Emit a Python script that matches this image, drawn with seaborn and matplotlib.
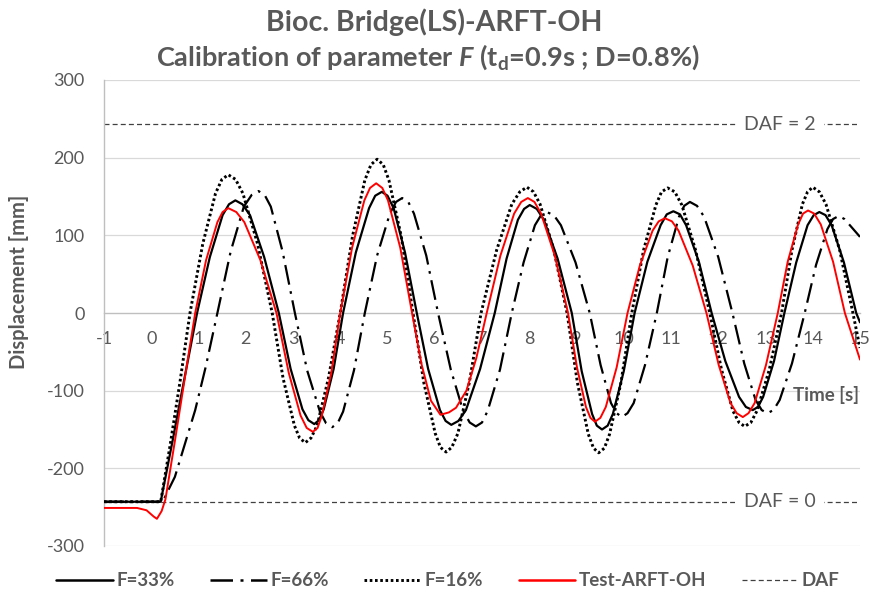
import numpy as np
import pandas as pd
import matplotlib
matplotlib.use("Agg")
import matplotlib.pyplot as plt
import seaborn as sns
from matplotlib.lines import Line2D

# ---------------- data ----------------
t33 = [-1, 0.2, 0.45, 0.7, 0.97, 1.24, 1.51, 1.645, 1.78, 1.93, 2.09, 2.39, 2.7, 2.95, 3.2, 3.325, 3.45,
       3.55, 3.65, 3.86, 4.06, 4.33, 4.61, 4.74, 4.88, 5.0, 5.13, 5.37, 5.62, 5.86, 6.11, 6.23, 6.35,
       6.5, 6.66, 6.96, 7.27, 7.52, 7.76, 7.89, 8.01, 8.16, 8.31, 8.6, 8.9, 9.11, 9.33, 9.43, 9.54,
       9.66, 9.77, 10.0, 10.23, 10.5, 10.78, 10.91, 11.05, 11.19, 11.32, 11.59, 11.86, 12.15, 12.44,
       12.585, 12.73, 12.84, 12.95, 13.18, 13.4, 13.65, 13.89, 14.02, 14.14, 14.27, 14.4, 14.66,
       14.92, 15.0]
d33 = [-243, -243, -165, -85, 0, 72, 126, 140, 145, 140, 126, 72, 0, -72, -124, -138, -143,
       -138, -124, -72, 0, 78, 135, 151, 156, 151, 135, 78, 0, -72, -125, -139, -144,
       -139, -125, -72, 0, 70, 120, 134, 139, 134, 120, 70, 0, -75, -130, -145, -150,
       -145, -130, -75, 0, 66, 113, 127, 131, 127, 113, 66, 0, -62, -108,
       -121, -125, -121, -108, -62, 0, 65, 113, 126, 130, 126, 113, 65,
       0, -12]

t66 = [-1, 0.24, 0.5, 0.93, 1.15, 1.4, 1.68, 1.96, 2.125, 2.27, 2.4, 2.53, 2.78, 3.04, 3.3, 3.57, 3.7,
       3.83, 3.945, 4.06, 4.29, 4.52, 4.78, 5.05, 5.18, 5.31, 5.44, 5.56, 5.82, 6.07, 6.34, 6.6, 6.74,
       6.87, 7.0, 7.12, 7.38, 7.63, 7.88, 8.12, 8.25, 8.37, 8.52, 8.67, 8.98, 9.28, 9.51, 9.73, 9.85,
       9.96, 10.08, 10.21, 10.45, 10.7, 10.93, 11.17, 11.28, 11.4, 11.55, 11.7, 12.0, 12.3, 12.55,
       12.79, 12.92, 13.04, 13.17, 13.3, 13.56, 13.83, 14.07, 14.31, 14.43, 14.55, 14.67, 14.8, 15.0]
d66 = [-243, -243, -211, -125, -70, 0, 79, 137, 152, 157, 152, 137, 79, 0, -74, -127, -142,
       -147, -142, -127, -74, 0, 74, 128, 143, 148, 143, 128, 74, 0, -73, -126, -141,
       -146, -141, -126, -73, 0, 65, 113, 126, 130, 126, 113, 65, 0, -67, -116, -129,
       -134, -129, -116, -67, 0, 72, 124, 138, 143, 138, 124, 72, 0, -65,
       -112, -125, -129, -125, -112, -65, 0, 62, 108, 121, 125, 121, 112, 98]

t16 = [-1, 0.2, 0.4, 0.61, 0.82, 1.09, 1.36, 1.495, 1.63, 1.785, 1.94, 2.25, 2.56, 2.79, 3.03, 3.14,
       3.26, 3.38, 3.51, 3.75, 4.0, 4.26, 4.52, 4.65, 4.78, 4.91, 5.03, 5.29, 5.54, 5.77, 6.01, 6.12,
       6.24, 6.36, 6.49, 6.73, 6.98, 7.31, 7.63, 7.8, 7.95, 8.09, 8.23, 8.52, 8.8, 9.02, 9.25, 9.36,
       9.47, 9.59, 9.7, 9.94, 10.17, 10.42, 10.68, 10.8, 10.93, 11.08, 11.23, 11.52, 11.82, 12.07,
       12.31, 12.44, 12.56, 12.69, 12.82, 13.08, 13.34, 13.56, 13.78, 13.89, 14.0, 14.14, 14.28,
       14.57, 14.85, 15.0]
d16 = [-243, -243, -170, -88, 0, 89, 154, 172, 178, 172, 154, 89, 0, -84, -145, -161,
       -167, -161, -145, -84, 0, 99, 171, 191, 198, 191, 171, 99, 0, -90, -155, -173,
       -179, -173, -155, -90, 0, 81, 140, 156, 162, 156, 140, 81, 0, -90, -156, -174,
       -180, -174, -156, -90, 0, 81, 139, 156, 161, 156, 139, 81, 0, -73,
       -126, -141, -146, -141, -126, -73, 0, 81, 140, 156, 162, 156, 140,
       81, 0, -45]

t_test = [-1, -0.3, -0.1, 0.05, 0.12, 0.22, 0.3, 0.5, 0.72, 0.93, 1.16, 1.4, 1.51, 1.63, 1.8, 1.97,
          2.31, 2.65, 2.91, 3.16, 3.29, 3.42, 3.52, 3.61, 3.81, 4.0, 4.25, 4.51, 4.63, 4.76, 4.89,
          5.01, 5.27, 5.52, 5.72, 5.92, 6.12, 6.3, 6.45, 6.67, 6.88, 7.1, 7.39, 7.68, 7.83, 7.97,
          8.11, 8.25, 8.54, 8.82, 9.01, 9.2, 9.295, 9.39, 9.505, 9.62, 9.85, 10.08, 10.34, 10.61,
          10.74, 10.87, 11.02, 11.16, 11.46, 11.75, 12.01, 12.26, 12.39, 12.52, 12.64, 12.77,
          13.01, 13.26, 13.47, 13.69, 13.795, 13.9, 14.03, 14.17, 14.43, 14.68, 15.0]
d_test = [-251, -251, -254, -262, -265, -255, -240, -165, -80, 0, 68, 117, 130, 135, 130, 117,
          68, 0, -77, -132, -148, -153, -148, -132, -77, 0, 84, 145, 161, 167, 161,
          145, 84, 0, -66, -113, -131, -128, -122, -100, -58, 0, 74, 128, 143, 148,
          143, 128, 74, 0, -70, -121, -135, -140, -135, -121, -70, 0, 61, 106,
          118, 122, 118, 106, 61, 0, -67, -116, -129, -134, -129, -116,
          -67, 0, 66, 114, 128, 132, 128, 114, 66, 0, -60]

daf_levels = [243, -243]
daf_labels = ["DAF = 2", "DAF = 0"]
x_ticks = list(range(-1, 16))
y_ticks = [-300, -200, -100, 0, 100, 200, 300]
legend_labels = ["F=33%", "F=66%", "F=16%", "Test-ARFT-OH", "DAF"]

# ---------------- style ----------------
sns.set_style("white")
plt.rcParams['font.family'] = ['Lato', 'DejaVu Sans']
plt.rcParams['mathtext.fontset'] = 'custom'
plt.rcParams['mathtext.rm'] = 'Lato:bold'
plt.rcParams['mathtext.it'] = 'Lato:italic:bold'
plt.rcParams['mathtext.bf'] = 'Lato:bold'
GREY = "#595959"

fig = plt.figure(figsize=(8.7, 6), dpi=100)
ax = fig.add_axes([104 / 870, 1 - 546 / 600, (860 - 104) / 870, (546 - 80) / 600])

DASHDOT = (0, (9, 3, 1.2, 3))
DOTTED = (0, (0.9, 0.9))
styles = {
    "F=33%": dict(color="black", lw=1.6, ls="-"),
    "F=66%": dict(color="black", lw=1.6, ls=DASHDOT),
    "F=16%": dict(color="black", lw=2.1, ls=DOTTED),
    "Test-ARFT-OH": dict(color="#ff0000", lw=1.4, ls="-"),
}
series = {
    "F=33%": (t33, d33),
    "F=66%": (t66, d66),
    "F=16%": (t16, d16),
    "Test-ARFT-OH": (t_test, d_test),
}

# grid lines
for yv in y_ticks:
    if yv != 0:
        ax.axhline(yv, color="#d9d9d9", lw=0.9, zorder=0)

# DAF lines
df_daf = pd.DataFrame({"t": [-1, 15, -1, 15],
                       "d": [daf_levels[0], daf_levels[0], daf_levels[1], daf_levels[1]],
                       "g": ["a", "a", "b", "b"]})
for g, sub in df_daf.groupby("g"):
    sns.lineplot(data=sub, x="t", y="d", ax=ax, color="#404040", lw=0.9,
                 linestyle=(0, (4, 2.5)), estimator=None, sort=False, zorder=1)

for name in ["F=66%", "F=16%", "F=33%", "Test-ARFT-OH"]:
    tt, dd = series[name]
    df = pd.DataFrame({"t": tt, "d": dd})
    st = styles[name]
    sns.lineplot(data=df, x="t", y="d", ax=ax, color=st["color"], lw=st["lw"],
                 linestyle=st["ls"], estimator=None, sort=False, zorder=3)

ax.set_xlim(-1, 15)
ax.set_ylim(-300, 300)
ax.set_xlabel("")
ax.set_ylabel("")

# spines / axes
for s in ["top", "right"]:
    ax.spines[s].set_visible(False)
ax.spines["bottom"].set_position(("data", 0))
ax.spines["bottom"].set_color("#bfbfbf")
ax.spines["bottom"].set_linewidth(1.0)
ax.spines["left"].set_color("#bfbfbf")
ax.spines["left"].set_linewidth(1.0)
ax.spines["bottom"].set_zorder(0.5)

ax.set_xticks(x_ticks)
ax.set_xticklabels([str(v) for v in x_ticks])
ax.set_yticks(y_ticks)
ax.set_yticklabels([str(v) for v in y_ticks])
ax.tick_params(axis="x", length=0, pad=13, labelsize=13, colors=GREY)
ax.tick_params(axis="y", length=4, width=0.8, color="#bfbfbf", pad=10, labelsize=13, labelcolor=GREY)
for lab in ax.get_xticklabels():
    lab.set_zorder(2)

# DAF annotations
for lvl, lab in zip(daf_levels, daf_labels):
    ax.text(13.3, lvl, lab, ha="center", va="center", fontsize=14, color=GREY,
            bbox=dict(fc="white", ec="none", pad=6), zorder=2)

ax.text(14.98, -105, "Time [s]", ha="right", va="center", fontsize=13.5, color=GREY,
        fontweight="bold", zorder=4)

fig.text(19 / 870, 1 - 282 / 600, "Displacement [mm]", rotation=90, ha="center", va="center",
         fontsize=14.5, color=GREY, fontweight="bold")

# Titles
fig.text(0.499, 1 - 22 / 600, "Bioc. Bridge(LS)-ARFT-OH", ha="center", va="center",
         fontsize=20.5, color=GREY, fontweight="bold")
fig.text(0.492, 1 - 57 / 600, r"Calibration of parameter $\mathit{F}$ (t$_{\mathrm{d}}$=0.9s ; D=0.8%)",
         ha="center", va="center", fontsize=19.5, color=GREY, fontweight="bold")

# Legend
handles = [
    Line2D([], [], color="black", lw=1.8, ls="-"),
    Line2D([], [], color="black", lw=1.8, ls=DASHDOT),
    Line2D([], [], color="black", lw=2.1, ls=DOTTED),
    Line2D([], [], color="#ff0000", lw=1.8, ls="-"),
    Line2D([], [], color="#404040", lw=0.9, ls=(0, (4, 2.5))),
]
leg = fig.legend(handles, legend_labels, loc="center", bbox_to_anchor=(0.515, 1 - 581 / 600),
                 ncol=5, frameon=False, fontsize=13.5, handlelength=3.0, handletextpad=0.2,
                 columnspacing=1.9, borderpad=0)
for txt in leg.get_texts():
    txt.set_color(GREY)
    txt.set_fontweight("bold")

fig.savefig("out.png", dpi=100)
